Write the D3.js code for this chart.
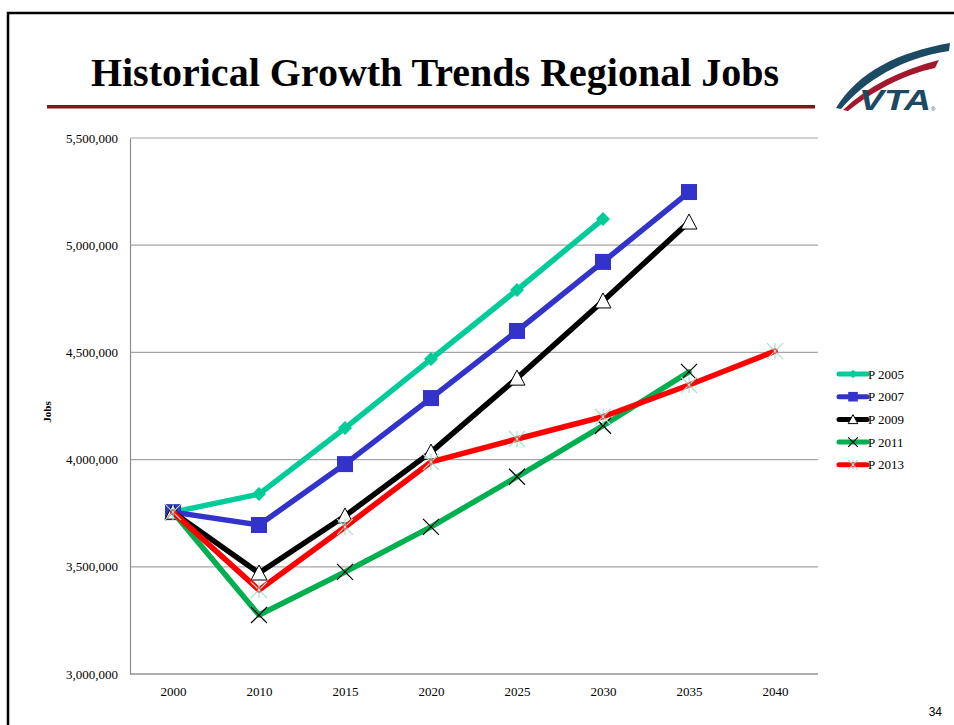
<!DOCTYPE html>
<html><head><meta charset="utf-8">
<script src="https://cdn.jsdelivr.net/npm/d3@7/dist/d3.min.js"></script>
<style>body{margin:0;background:#fff}svg{display:block}</style>
</head><body>
<script>
const categories = ["2000","2010","2015","2020","2025","2030","2035","2040"];
const p2005 = [3755000,3839000,4147000,4469000,4791000,5122000,null,null];
const p2007 = [3755000,3695000,3979000,4287000,4600000,4922000,5248000,null];
const p2009 = [3755000,3471000,3737000,4035000,4380000,4740000,5108000,null];
const p2011 = [3755000,3275000,3476000,3686000,3920000,4158000,4409000,null];
const p2013 = [3755000,3392000,3686000,3989000,4096000,4200000,4348000,4506000];
const yTicks = [3000000,3500000,4000000,4500000,5000000,5500000];
const seriesNames = ["P 2005","P 2007","P 2009","P 2011","P 2013"];

const series = [
  {name:seriesNames[0], values:p2005, color:"#00CC99", marker:"diamond"},
  {name:seriesNames[1], values:p2007, color:"#3333CC", marker:"square"},
  {name:seriesNames[2], values:p2009, color:"#000000", marker:"triangle"},
  {name:seriesNames[3], values:p2011, color:"#00B050", marker:"x"},
  {name:seriesNames[4], values:p2013, color:"#FF0000", marker:"star"}
];

const W=954,H=725;
const svg=d3.select("body").append("svg").attr("width",W).attr("height",H);

// slide border
svg.append("path").attr("d","M8,725 L8,13 L954,13").attr("fill","none").attr("stroke","#000").attr("stroke-width",2.5);

// title
svg.append("text").attr("x",435).attr("y",86).attr("text-anchor","middle")
  .attr("font-family","'Liberation Serif','Times New Roman',serif").attr("font-weight","bold")
  .attr("font-size",40).text("Historical Growth Trends Regional Jobs");
svg.append("rect").attr("x",47).attr("y",105).attr("width",768).attr("height",3.5).attr("fill","#7B1818");

// logo
const logo=svg.append("g");
logo.append("path").attr("d","M836,108 C858,72 898,52 950,43 L949,51 C902,58 866,80 841,109 Z").attr("fill","#1C4A63");
logo.append("path").attr("d","M843,110 C868,86 900,70 939,60 L935,68 C902,75 872,92 848,111 Z").attr("fill","#A4182E");
logo.append("text").attr("x",859).attr("y",110).attr("font-family","'Liberation Sans',Arial,sans-serif")
  .attr("font-weight","bold").attr("font-style","italic").attr("font-size",29).attr("fill","#1C4A63")
  .attr("textLength",72).attr("lengthAdjust","spacingAndGlyphs").text("VTA");
logo.append("text").attr("x",931).attr("y",111).attr("font-family","Arial,sans-serif").attr("font-size",6).attr("fill","#1C4A63").text("®");

// scales
const x=d3.scalePoint().domain(categories).range([130,818]).padding(0.5);
const y=d3.scaleLinear().domain([3000000,5500000]).range([674,138]);
const serif="'Liberation Serif','Times New Roman',serif";

// gridlines
svg.append("g").selectAll("line").data(yTicks).join("line")
  .attr("x1",130).attr("x2",818).attr("y1",d=>y(d)).attr("y2",d=>y(d))
  .attr("stroke","#A6A6A6").attr("stroke-width",1.2);

// y axis
const yAxis=svg.append("g").attr("transform","translate(130,0)")
  .call(d3.axisLeft(y).tickValues(yTicks).tickSize(0).tickPadding(12).tickFormat(d3.format(",")));
yAxis.select(".domain").attr("stroke","#8C8C8C").attr("stroke-width",1.2);
yAxis.selectAll("text").attr("font-family",serif).attr("font-size",13).attr("fill","#000");

// x axis
const xAxis=svg.append("g").attr("transform","translate(0,674)")
  .call(d3.axisBottom(x).tickSize(0).tickPadding(13));
xAxis.select(".domain").attr("stroke","#8C8C8C").attr("stroke-width",1.2).attr("d","M130,0H818");
xAxis.selectAll("text").attr("font-family",serif).attr("font-size",13).attr("fill","#000");

// y title
svg.append("text").attr("transform","translate(51,412) rotate(-90)").attr("text-anchor","middle")
  .attr("font-family",serif).attr("font-weight","bold").attr("font-size",11).text("Jobs");

// lines
const line=d3.line().defined(d=>d.v!=null).x(d=>x(d.c)).y(d=>y(d.v));
function drawMarker(g,type,color,cx,cy,scale){
  const s=scale||1;
  if(type==="diamond"){
    g.append("path").attr("d",`M${cx},${cy-7*s}L${cx+7*s},${cy}L${cx},${cy+7*s}L${cx-7*s},${cy}Z`).attr("fill",color);
  } else if(type==="square"){
    g.append("rect").attr("x",cx-8*s).attr("y",cy-8*s).attr("width",16*s).attr("height",16*s).attr("fill",color);
  } else if(type==="triangle"){
    g.append("path").attr("d",`M${cx},${cy-8*s}L${cx+8*s},${cy+7*s}L${cx-8*s},${cy+7*s}Z`).attr("fill","#fff").attr("stroke","#000").attr("stroke-width",1);
  } else if(type==="x"){
    const r=8*s;
    g.append("path").attr("d",`M${cx-r},${cy-r}L${cx+r},${cy+r}M${cx-r},${cy+r}L${cx+r},${cy-r}`).attr("stroke","#000").attr("stroke-width",1.2);
  } else if(type==="star"){
    const r=8*s;
    g.append("path").attr("d",`M${cx-r},${cy-r}L${cx+r},${cy+r}M${cx-r},${cy+r}L${cx+r},${cy-r}M${cx},${cy-r}L${cx},${cy+r}`).attr("stroke","#A8E0CC").attr("stroke-width",1.2);
    g.append("circle").attr("cx",cx).attr("cy",cy).attr("r",2).attr("fill","none").attr("stroke","#E04040").attr("stroke-width",0.8);
  }
}
const plot=svg.append("g");
series.forEach(s=>{
  const pts=categories.map((c,i)=>({c,v:s.values[i]}));
  plot.append("path").datum(pts).attr("d",line).attr("fill","none").attr("stroke",s.color)
    .attr("stroke-width",5.5).attr("stroke-linejoin","round").attr("stroke-linecap","round");
  const mg=plot.append("g");
  pts.filter(d=>d.v!=null).forEach(d=>drawMarker(mg,s.marker,s.color,x(d.c),y(d.v)));
});

// legend
const leg=svg.append("g");
series.forEach((s,i)=>{
  const ly=374+i*22.7;
  leg.append("line").attr("x1",839).attr("x2",867).attr("y1",ly).attr("y2",ly).attr("stroke",s.color).attr("stroke-width",5).attr("stroke-linecap","round");
  drawMarker(leg,s.marker,s.color,853,ly,0.6);
  leg.append("text").attr("x",868).attr("y",ly+4.5).attr("font-family",serif).attr("font-size",13).text(s.name);
});

// page number
svg.append("text").attr("x",942).attr("y",716).attr("text-anchor","end").attr("font-family","'Liberation Sans',Arial,sans-serif").attr("font-size",12).text("34");
</script>
</body></html>
